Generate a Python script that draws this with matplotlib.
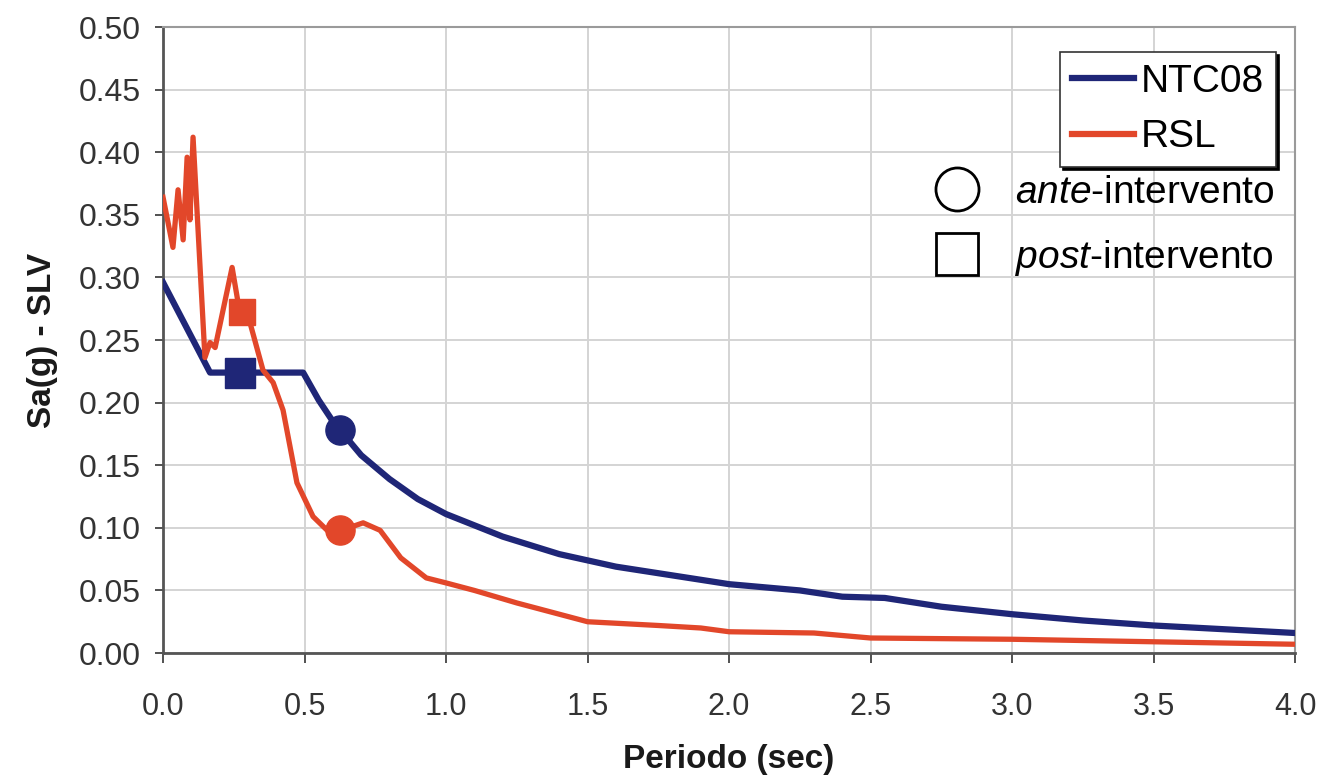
import matplotlib
matplotlib.use('Agg')
import matplotlib.pyplot as plt
from matplotlib.lines import Line2D

plt.rcParams['font.family'] = ['Liberation Sans', 'DejaVu Sans']
plt.rcParams['mathtext.fontset'] = 'custom'
plt.rcParams['mathtext.it'] = 'Liberation Sans:italic'
plt.rcParams['mathtext.rm'] = 'Liberation Sans'

# --- data ---
ntc_T = [0.0, 0.166, 0.495, 0.55, 0.60, 0.70, 0.80, 0.90, 1.00, 1.20, 1.40,
         1.60, 1.80, 2.00, 2.25, 2.40, 2.55, 2.75, 3.00, 3.25, 3.50, 3.75, 4.00]
ntc_Sa = [0.296, 0.224, 0.224, 0.202, 0.185, 0.158, 0.139, 0.123, 0.111, 0.093, 0.079,
          0.069, 0.062, 0.055, 0.050, 0.045, 0.044, 0.037, 0.031, 0.026, 0.022, 0.019, 0.016]

rsl_T = [0.0, 0.035, 0.053, 0.071, 0.085, 0.095, 0.106, 0.148, 0.166, 0.184, 0.244,
         0.265, 0.307, 0.353, 0.389, 0.424, 0.473, 0.53, 0.58, 0.63, 0.707, 0.767,
         0.84, 0.93, 1.00, 1.10, 1.25, 1.40, 1.50, 1.75, 1.90, 2.00, 2.30, 2.50,
         3.00, 3.50, 4.00]
rsl_Sa = [0.364, 0.324, 0.370, 0.330, 0.396, 0.346, 0.412, 0.236, 0.248, 0.244, 0.308,
          0.280, 0.264, 0.226, 0.216, 0.194, 0.136, 0.109, 0.098, 0.098, 0.104, 0.098,
          0.076, 0.060, 0.056, 0.050, 0.040, 0.031, 0.025, 0.022, 0.020, 0.017, 0.016, 0.012,
          0.011, 0.009, 0.007]

# (T, Sa) of the performance points
ntc_ante = (0.625, 0.178)
ntc_post = (0.272, 0.224)
rsl_ante = (0.625, 0.098)
rsl_post = (0.279, 0.272)

blue = '#1f2677'
red = '#e2472a'

fig = plt.figure(figsize=(13.42, 7.79), dpi=100)
ax = fig.add_axes([0.1215, 0.1617, 0.8436, 0.8036])

ax.plot(ntc_T, ntc_Sa, color=blue, lw=4.5, solid_joinstyle='round', zorder=3)
ax.plot(rsl_T, rsl_Sa, color=red, lw=3.8, solid_joinstyle='round', zorder=3)

ax.plot(*ntc_ante, marker='o', ms=21, color=blue, zorder=4)
ax.plot(*ntc_post, marker='s', ms=21, color=blue, zorder=4)
ax.plot(*rsl_ante, marker='o', ms=21, color=red, zorder=4)
ax.plot(*rsl_post, marker='s', ms=19, color=red, zorder=4)

ax.set_xlim(0, 4.0)
ax.set_ylim(0, 0.5)
ax.set_xticks([0.0, 0.5, 1.0, 1.5, 2.0, 2.5, 3.0, 3.5, 4.0])
ax.set_yticks([0.0, 0.05, 0.10, 0.15, 0.20, 0.25, 0.30, 0.35, 0.40, 0.45, 0.50])
ax.set_xticklabels(['0.0', '0.5', '1.0', '1.5', '2.0', '2.5', '3.0', '3.5', '4.0'])
ax.set_yticklabels(['0.00', '0.05', '0.10', '0.15', '0.20', '0.25', '0.30', '0.35',
                    '0.40', '0.45', '0.50'])
ax.grid(True, color='#d4d4d4', lw=1.4)
ax.set_axisbelow(True)

for s in ['top', 'right']:
    ax.spines[s].set_color('#9a9a9a')
    ax.spines[s].set_linewidth(1.5)
for s in ['left', 'bottom']:
    ax.spines[s].set_color('#555555')
    ax.spines[s].set_linewidth(2)

ax.tick_params(axis='y', labelsize=23, length=6, width=1.2, pad=10, colors='#333333')
ax.tick_params(axis='x', labelsize=22, length=7, width=1.2, pad=21, colors='#333333')

ax.set_xlabel('Periodo (sec)', fontsize=24, fontweight='bold', color='#1a1a1a')
ax.set_ylabel('Sa(g) - SLV', fontsize=24, fontweight='bold', color='#1a1a1a')
ax.xaxis.set_label_coords(0.5, -0.145)
ax.yaxis.set_label_coords(-0.093, 0.5)

# line legend (framed, with shadow)
line_handles = [Line2D([], [], color=blue, lw=4.5), Line2D([], [], color=red, lw=4.5)]
leg1 = ax.legend(line_handles, ['NTC08', 'RSL'], loc='upper right',
                 bbox_to_anchor=(0.983, 0.960), fontsize=28, frameon=True,
                 fancybox=False, shadow={'color': 'black', 'alpha': 1.0},
                 edgecolor='#333333', framealpha=1, handlelength=1.6,
                 handletextpad=0.18, borderpad=0.3, labelspacing=0.5,
                 borderaxespad=0)
leg1.get_frame().set_linewidth(1.2)
ax.add_artist(leg1)

# marker legend (no frame)
mk_handles = [Line2D([], [], ls='none', marker='o', ms=31, mfc='white', mec='black', mew=2),
              Line2D([], [], ls='none', marker='s', ms=30, mfc='white', mec='black', mew=2)]
leg2 = ax.legend(mk_handles, [r'$\it{ante}$-intervento', r'$\it{post}$-intervento'],
                 loc='upper left', bbox_to_anchor=(0.684, 0.764), fontsize=28,
                 frameon=False, handlelength=1.0, handletextpad=1.0,
                 labelspacing=0.7, borderaxespad=0, borderpad=0)

fig.savefig('out.png', dpi=100)
